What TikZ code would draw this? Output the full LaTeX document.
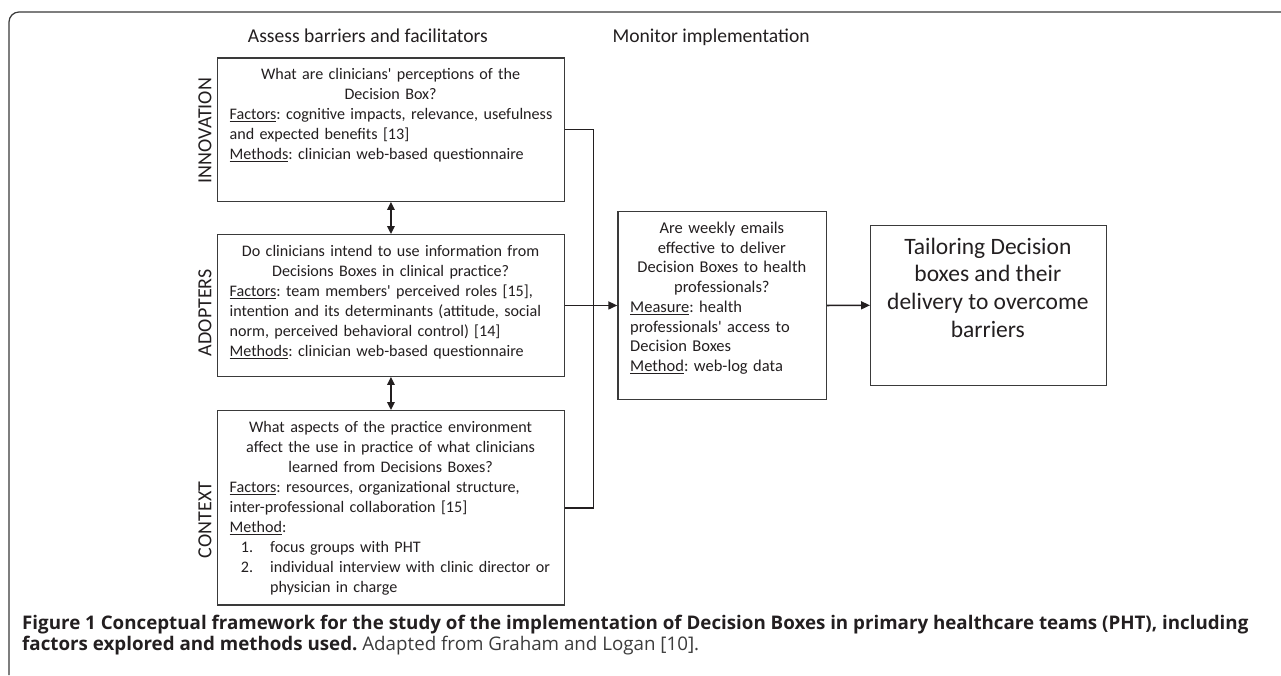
\documentclass[tikz,border=0pt]{standalone}
\usepackage{fontspec}
\setmainfont{Carlito}
\newfontfamily\capfont{Open Sans}
\usetikzlibrary{arrows.meta}
\definecolor{ink}{HTML}{231F20}
\definecolor{edge}{HTML}{3A3A3A}
\definecolor{capgray}{HTML}{3C3C3C}
\newcommand\firststrut{\rule{0pt}{14pt}}
\newsavebox\ulbox
\newcommand\myul[1]{\sbox\ulbox{#1}\rlap{\rule[-2.4pt]{\wd\ulbox}{1.1pt}}\usebox\ulbox}
\newcommand\lbox[1]{\makebox[\linewidth][l]{#1}}
\newcommand\apos{\textquotesingle}
\begin{document}
\frenchspacing
\begin{tikzpicture}[x=1pt,y=-1pt,
  box/.style={draw=edge, line width=1.2pt, inner sep=0pt, anchor=north west},
  conn/.style={draw=ink, line width=1.6pt},
  arr/.style={conn, -{Triangle[length=9pt,width=8pt]}},
  biarr/.style={conn, {Triangle[length=8pt,width=7.5pt]}-{Triangle[length=8pt,width=7.5pt]}},
  txt/.style={text=ink, inner sep=0pt, font=\frenchspacing\fontsize{16.1}{20}\selectfont},
  head/.style={text=ink, inner sep=0pt, anchor=base west, font=\fontsize{19.6}{24}\selectfont},
  lab/.style={text=ink, inner sep=0pt, rotate=90, font=\fontsize{20}{24}\selectfont},
]
\fill[white] (0,0) rectangle (1281,675);
\useasboundingbox (0,0) rectangle (1281,675);
% frame
\draw[edge, line width=1.2pt, rounded corners=10pt] (9,675) -- (9,12) -- (1281,12);

% headers
\node[head] (hassess) at (247.7,42) {Assess barriers and facilitators};
\node[head] (hmonitor) at (612.3,42) {Monitor implementation};

% boxes
\node[box, minimum width=347.3pt, minimum height=143.4pt] (innov) at (216.7,57.3) {};
\node[box, minimum width=347.3pt, minimum height=141.7pt] (adopt) at (216.7,234) {};
\node[box, minimum width=347.3pt, minimum height=194.3pt] (context) at (216.7,410) {};
\node[box, minimum width=208.7pt, minimum height=188.3pt] (monitor) at (617.3,210.7) {};
\node[box, minimum width=235.7pt, minimum height=160pt] (tailor) at (870,224.7) {};

% side labels
\node[lab] (linnov) at (205,130.5) {INNOVATION};
\node[lab] (ladopt) at (205,312.7) {ADOPTERS};
\node[lab] (lcontext) at (205,520) {CONTEXT};

% box texts
\node[txt, anchor=north west, text width=322pt, align=center] (innovtxt) at (229.4,65.3) {%
\firststrut What are clinicians\apos{} perceptions of the\\
Decision Box?\\
\lbox{\myul{Factors}: cognitive impacts, relevance, usefulness}\\
\lbox{and expected benefits [13]}\\
\lbox{\myul{Methods}: clinician web-based questionnaire}};

\node[txt, anchor=north west, text width=322pt, align=center] (adopttxt) at (229.4,242) {%
\firststrut Do clinicians intend to use information from\\
Decisions Boxes in clinical practice?\\
\lbox{\myul{Factors}: team members\apos{} perceived roles [15],}\\
\lbox{intention and its determinants (attitude, social}\\
\lbox{norm, perceived behavioral control) [14]}\\
\lbox{\myul{Methods}: clinician web-based questionnaire}};

\node[txt, anchor=north west, text width=322pt, align=center] (contexttxt) at (229.4,418.3) {%
\firststrut What aspects of the practice environment\\
affect the use in practice of what clinicians\\
learned from Decisions Boxes?\\
\lbox{\myul{Factors}: resources, organizational structure,}\\
\lbox{inter-professional collaboration [15]}\\
\lbox{\myul{Method}:}\\
\lbox{\hspace*{11.3pt}\makebox[29.3pt][l]{1.}focus groups with PHT}\\
\lbox{\hspace*{11.3pt}\makebox[29.3pt][l]{2.}individual interview with clinic director or}\\
\lbox{\hspace*{40.6pt}physician in charge}};

\node[txt, anchor=north west, text width=183.3pt, align=center, font=\frenchspacing\fontsize{16.5}{19.7}\selectfont] (monitortxt) at (630,219.3) {%
\firststrut Are weekly emails\\
effective to deliver\\
Decision Boxes to health\\
professionals?\\
\lbox{\myul{Measure}: health}\\
\lbox{professionals\apos{} access to}\\
\lbox{Decision Boxes}\\
\lbox{\myul{Method}: web-log data}};

\node[txt, anchor=north, align=center, font=\fontsize{23.5}{27.7}\selectfont] (tailortxt) at (987.85,234) {%
\rule{0pt}{20pt}Tailoring Decision\\
boxes and their\\
delivery to overcome\\
barriers};

% connectors
\coordinate (jx) at (593.5,129);
\draw[conn] (innov.east) -- (innov.east -| jx) -- (context.east -| jx) -- (context.east);
\draw[arr] (adopt.east) -- (monitor.west);
\draw[arr] (monitor.east) -- (tailor.west);
\draw[biarr] (innov.south) -- (adopt.north);
\draw[biarr] (adopt.south) -- (context.north);

% caption
\node[anchor=north west, inner sep=0pt, align=left, text=ink, font=\capfont\frenchspacing\fontsize{18.75}{21}\selectfont] (caption) at (22,613) {%
\rule{0pt}{16pt}\textbf{Figure 1 Conceptual framework for the study of the implementation of Decision Boxes in primary healthcare teams (PHT), including}\\
\textbf{factors explored and methods used.} {\color{capgray}Adapted from Graham and Logan [10].}};
\end{tikzpicture}
\end{document}
